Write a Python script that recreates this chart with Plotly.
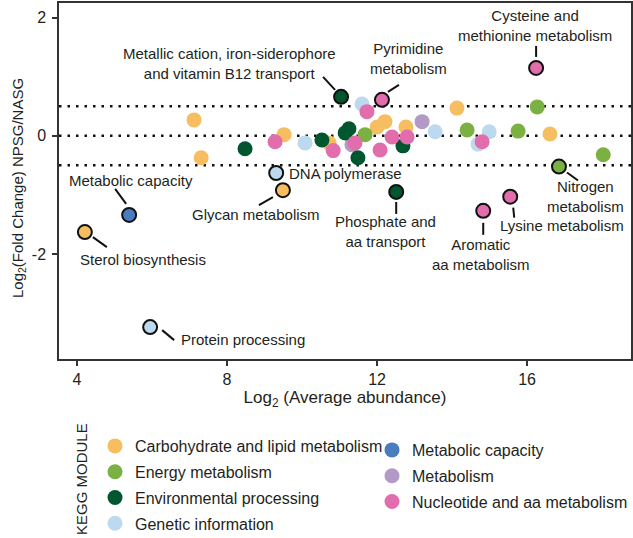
import plotly.graph_objects as go

# ---------------- data ----------------
categories = ["Carbohydrate and lipid metabolism", "Energy metabolism", "Environmental processing",
              "Genetic information", "Metabolic capacity", "Metabolism", "Nucleotide and aa metabolism"]
colors = {"Carbohydrate and lipid metabolism": "#F6BE60",
          "Energy metabolism": "#7AB142",
          "Environmental processing": "#00562E",
          "Genetic information": "#BDD9EF",
          "Metabolic capacity": "#4A7CC0",
          "Metabolism": "#B39AC6",
          "Nucleotide and aa metabolism": "#E26DAC"}

carb_x = [7.12, 7.31, 9.52, 10.72, 12.00, 12.21, 12.77, 14.13, 16.61]
carb_y = [0.27, -0.37, 0.02, -0.12, 0.15, 0.24, 0.15, 0.47, 0.03]
energy_x = [11.68, 14.40, 15.76, 16.27, 18.03]
energy_y = [0.02, 0.10, 0.08, 0.49, -0.32]
env_x = [8.48, 10.53, 11.15, 11.25, 11.49, 12.69]
env_y = [-0.22, -0.07, 0.05, 0.12, -0.37, -0.17]
gen_x = [10.08, 11.60, 13.55, 14.69, 14.99]
gen_y = [-0.12, 0.54, 0.07, -0.14, 0.07]
metcap_x = []
metcap_y = []
metab_x = [13.20, 11.33]
metab_y = [0.24, -0.15]
nuc_x = [9.28, 10.83, 11.41, 11.73, 12.08, 12.40, 12.80, 14.80]
nuc_y = [-0.10, -0.25, -0.12, 0.41, -0.24, -0.02, -0.02, -0.10]

series = {
    "Carbohydrate and lipid metabolism": (carb_x, carb_y),
    "Energy metabolism": (energy_x, energy_y),
    "Environmental processing": (env_x, env_y),
    "Genetic information": (gen_x, gen_y),
    "Metabolic capacity": (metcap_x, metcap_y),
    "Metabolism": (metab_x, metab_y),
    "Nucleotide and aa metabolism": (nuc_x, nuc_y),
}

# labelled modules
lab_names = ["Metallic cation, iron-siderophore<br>and vitamin B12 transport",
             "Pyrimidine<br>metabolism",
             "Cysteine and<br>methionine metabolism",
             "DNA polymerase",
             "Glycan metabolism",
             "Metabolic capacity",
             "Sterol biosynthesis",
             "Protein processing",
             "Phosphate and<br>aa transport",
             "Aromatic<br>aa metabolism",
             "Lysine metabolism",
             "Nitrogen<br>metabolism"]
lab_cat = ["Environmental processing", "Nucleotide and aa metabolism", "Nucleotide and aa metabolism",
           "Genetic information", "Carbohydrate and lipid metabolism", "Metabolic capacity",
           "Carbohydrate and lipid metabolism", "Genetic information", "Environmental processing",
           "Nucleotide and aa metabolism", "Nucleotide and aa metabolism", "Energy metabolism"]
lab_x = [11.04, 12.13, 16.24, 9.31, 9.49, 5.39, 4.21, 5.95, 12.51, 14.83, 15.55, 16.85]
lab_y = [0.66, 0.61, 1.15, -0.63, -0.92, -1.34, -1.63, -3.24, -0.95, -1.27, -1.03, -0.52]

threshold_lines = [0.5, 0.0, -0.5]
x_ticks = [4, 8, 12, 16]
y_ticks = [-2, 0, 2]
y_tick_text = ["-2", "0", "2"]

# ---------------- layout helpers (pixel offsets) ----------------
text_off = [(-112, 33.5, "center"), (27, 41, "center"), (-1, 42, "center"), (11, 0, "left"),
            (-27, -24, "center"), (2, 34, "center"), (58, -27, "center"), (93, -12, "center"),
            (-11, -40, "center"), (-2, -44, "center"), (52, -29, "center"), (27, -30, "center")]
leader = [(-18, 20, -6, 7), (17, 15, 6, 8), (0, 22, 0, 11), None,
          (-24, -15, -10, -7), (-14, 26, -3, 11), (8, -5, 22, -15), (12, -3, 24, -13),
          (0, -10, 0, -22), (0, -12, 0, -24), (3, -11, 4, -21), (8, -6, 19, -14)]

W, H = 633, 538
L, R, T, B = 59, 2, 3, 179
PW, PH = W - L - R, H - T - B
FONT = "Liberation Sans, Arial, Helvetica, sans-serif"
TXT = "#231F20"

fig = go.Figure()

draw_order = ["Genetic information", "Metabolism", "Carbohydrate and lipid metabolism",
              "Energy metabolism", "Environmental processing", "Nucleotide and aa metabolism",
              "Metabolic capacity"]
col1 = categories[:4]
for cat in draw_order:
    xs, ys = series[cat]
    xs = list(xs) if xs else [None]
    ys = list(ys) if ys else [None]
    fig.add_trace(go.Scatter(
        x=xs, y=ys, mode="markers", name=cat,
        marker=dict(size=15, color=colors[cat], line=dict(width=0)),
        legend="legend" if cat in col1 else "legend2",
        legendrank=categories.index(cat) + 1,
        legendgroup=cat,
    ))

fig.add_trace(go.Scatter(
    x=lab_x, y=lab_y, mode="markers", showlegend=False,
    marker=dict(size=14, color=[colors[c] for c in lab_cat], line=dict(width=2, color="#111111")),
))

for i, name in enumerate(lab_names):
    dx, dy, anc = text_off[i]
    fig.add_annotation(x=lab_x[i], y=lab_y[i], xref="x", yref="y", text=name, showarrow=False,
                       xshift=dx, yshift=dy, xanchor=anc, yanchor="middle", align="center",
                       font=dict(family=FONT, size=15, color=TXT))
    if leader[i] is not None:
        x0, y0, x1, y1 = leader[i]
        fig.add_shape(type="line", xref="x", yref="y", xsizemode="pixel", ysizemode="pixel",
                      xanchor=lab_x[i], yanchor=lab_y[i], x0=x0, y0=y0, x1=x1, y1=y1,
                      line=dict(color="#111111", width=2))

for v in threshold_lines:
    fig.add_shape(type="line", xref="paper", yref="y", x0=0, x1=1, y0=v, y1=v,
                  line=dict(color="#111111", width=2.5, dash="2.5px,6px"), layer="below")

# y-axis title and legend heading as rotated text
fig.add_annotation(xref="paper", yref="paper", x=(18 - L) / PW, y=1 - (188 - T) / PH,
                   text="Log<sub>2</sub>(Fold Change) NPSG/NASG", textangle=-90, showarrow=False,
                   xanchor="center", yanchor="middle",
                   font=dict(family=FONT, size=15, color=TXT))
fig.add_annotation(xref="paper", yref="paper", x=(81 - L) / PW, y=1 - (479 - T) / PH,
                   text="KEGG MODULE", textangle=-90, showarrow=False,
                   xanchor="center", yanchor="middle",
                   font=dict(family=FONT, size=15, color=TXT))

axis_common = dict(ticks="outside", ticklen=5, tickwidth=1.5, tickcolor="#333333",
                   showline=True, linecolor="#333333", linewidth=1.5, mirror=True,
                   showgrid=False, zeroline=False, tickfont=dict(size=16), automargin=True)

fig.update_layout(
    width=W, height=H,
    margin=dict(l=L, r=R, t=T, b=B, autoexpand=False),
    paper_bgcolor="white", plot_bgcolor="white",
    font=dict(family=FONT, color=TXT),
    xaxis=dict(range=[3.52, 18.77], tickvals=x_ticks, **axis_common,
               title=dict(text="Log<sub>2</sub> (Average abundance)", font=dict(size=17), standoff=3)),
    yaxis=dict(range=[-3.78, 2.25], tickvals=y_ticks, ticktext=y_tick_text, ticklabelstandoff=3,
               **axis_common),
    legend=dict(xref="container", yref="container", x=95 / W, y=1 - 429 / H,
                xanchor="left", yanchor="top",
                font=dict(size=16, family=FONT, color=TXT), traceorder="grouped", tracegroupgap=2,
                itemsizing="trace", bgcolor="rgba(0,0,0,0)"),
    legend2=dict(xref="container", yref="container", x=372 / W, y=1 - 433 / H,
                 xanchor="left", yanchor="top",
                 font=dict(size=16, family=FONT, color=TXT), traceorder="grouped", tracegroupgap=2,
                 itemsizing="trace", bgcolor="rgba(0,0,0,0)"),
)

fig.write_html("out.html", config={"displayModeBar": False},
               post_script="document.body.style.margin='0';")
